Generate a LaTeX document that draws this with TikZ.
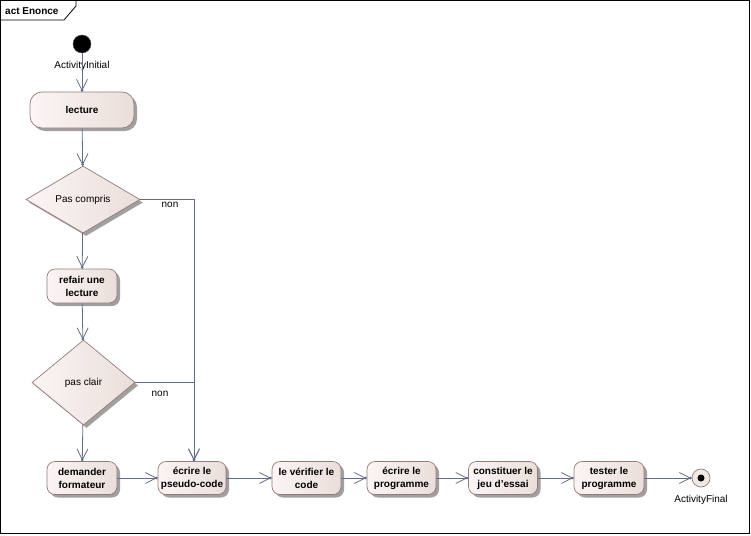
\documentclass[tikz,border=0pt]{standalone}
\usepackage{fontspec}
\setmainfont{Liberation Sans}
\usetikzlibrary{shapes.geometric,shadows,arrows.meta}

\definecolor{edgec}{RGB}{98,108,135}
\definecolor{nodeL}{RGB}{251,245,243}
\definecolor{nodeR}{RGB}{234,222,218}
\definecolor{nodeB}{RGB}{150,122,122}
\definecolor{shade}{RGB}{160,160,160}

\begin{document}
\begin{tikzpicture}[x=1pt,y=-1pt,
  txt/.style={font=\fontsize{10}{13}\selectfont, inner sep=0pt},
  shadowed/.style={drop shadow={shadow xshift=3pt, shadow yshift=-3pt, fill=shade, opacity=1}},
  act/.style={draw=nodeB, line width=0.7pt, left color=nodeL, right color=nodeR,
    rounded corners=8pt, align=center, inner sep=0pt, shadowed,
    font=\bfseries\fontsize{10}{13}\selectfont},
  decision/.style={diamond, draw=nodeB, line width=0.7pt, left color=nodeL, right color=nodeR,
    inner sep=0pt, shadowed, font=\fontsize{10}{13}\selectfont},
  flow/.style={draw=edgec, line width=0.8pt,
    -{Straight Barb[length=11pt,width=11pt,sep=-2pt] Circle[length=2.5pt]}}
]
\useasboundingbox (0,0) rectangle (751,535);

% outer frame with its title tab
\draw[line width=0.8pt] (0.5,0.5) rectangle (749.5,533.5);
\draw[line width=0.8pt] (0.5,20) -- (64,20) -- (76,6) -- (76,0.5);
\node[txt, font=\bfseries\fontsize{10}{13}\selectfont, anchor=west] (title) at (5,11) {act Enonce};

% start and end
\node[circle, fill=black, draw=black!70, minimum size=18pt, inner sep=0pt] (init) at (82,44) {};
\node[txt] (initlbl) at (82,66) {ActivityInitial};

\node[circle, draw=nodeB, line width=0.7pt, fill=nodeR!70!white, minimum size=18pt, inner sep=0pt] (final) at (701,478) {};
\node[circle, fill=black, minimum size=7pt, inner sep=0pt] (finaldot) at (final) {};
\node[txt] (finallbl) at (701,500) {ActivityFinal};

% actions down the left column
\node[act, rounded corners=12pt, minimum width=104pt, minimum height=36pt] (lecture) at (82,110) {lecture};
\node[decision, minimum width=114pt, minimum height=67pt] (pc) at (83,199.5) {Pas compris};
\node[act, minimum width=70pt, minimum height=34pt] (refair) at (82,286) {refair une\\lecture};
\node[decision, minimum width=103pt, minimum height=85pt] (pcl) at (83.5,382.5) {pas clair};

% bottom row of actions
\node[act, minimum width=70pt, minimum height=33pt] (dem) at (82,478) {demander\\formateur};
\node[act, minimum width=68pt, minimum height=33pt] (ecr) at (192,478) {écrire le\\pseudo-code};
\node[act, minimum width=69pt, minimum height=33pt] (verif) at (306.5,478) {le vérifier le\\code};
\node[act, minimum width=69pt, minimum height=33pt] (prog) at (401.5,478) {écrire le\\programme};
\node[act, minimum width=69pt, minimum height=33pt] (jeu) at (503,478) {constituer le\\jeu d'essai};
\node[act, minimum width=70pt, minimum height=33pt] (test) at (609,478) {tester le\\programme};

% control flows
\draw[flow] (init) -- (lecture);
\draw[flow] (lecture) -- (pc);
\draw[flow] (pc) -- (refair);
\draw[flow] (refair) -- (pcl);
\draw[flow] (pcl) -- (dem);
\draw[flow] (pc.east) -| ([xshift=2pt]ecr.north);
\draw[flow] (pcl.east) -| ([xshift=2pt]ecr.north);
\node[txt] (non1) at (170,205) {non};
\node[txt] (non2) at (160,394) {non};

\draw[flow] (dem) -- (ecr);
\draw[flow] (ecr) -- (verif);
\draw[flow] (verif) -- (prog);
\draw[flow] (prog) -- (jeu);
\draw[flow] (jeu) -- (test);
\draw[flow] (test) -- (final);
\end{tikzpicture}
\end{document}
